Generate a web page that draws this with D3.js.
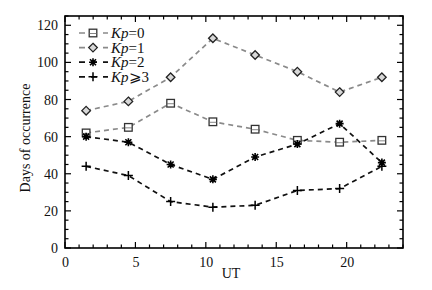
<!DOCTYPE html>
<html>
<head>
<meta charset="utf-8">
<script src="https://cdn.jsdelivr.net/npm/d3@7"></script>
<style>
  body { margin: 0; background: #fff; }
  svg { font-family: "Liberation Serif", "DejaVu Serif", serif; }
  .axis path, .axis line { stroke: #000; }
</style>
</head>
<body>
<svg id="chart" width="432" height="290"></svg>
<script>
// UT hour bins
const ut = [1.5, 4.5, 7.5, 10.5, 13.5, 16.5, 19.5, 22.5];

const kp0 = [62, 65, 78, 68, 64, 58, 57, 58];
const kp1 = [74, 79, 92, 113, 104, 95, 84, 92];
const kp2 = [60, 57, 45, 37, 49, 56, 67, 46];
const kp3 = [44, 39, 25, 22, 23, 31, 32, 44];

const xTicks = [0, 5, 10, 15, 20];
const yTicks = [0, 20, 40, 60, 80, 100, 120];

const series = [
  {label: "=0", values: kp0, color: "#8a8a8a", marker: "square"},
  {label: "=1", values: kp1, color: "#8a8a8a", marker: "diamond"},
  {label: "=2", values: kp2, color: "#111", marker: "star"},
  {label: "\u2a7e3", values: kp3, color: "#111", marker: "plus"}
];

const margin = {top: 16, right: 29, bottom: 42, left: 65};
const svg = d3.select("#chart");
const width = 432 - margin.left - margin.right;
const height = 290 - margin.top - margin.bottom;

const x = d3.scaleLinear().domain([0, 24]).range([0, width]);
const y = d3.scaleLinear().domain([0, 125]).range([height, 0]);

const g = svg.append("g")
    .attr("transform", "translate(" + margin.left + "," + margin.top + ")");

// ticks pointing inward, minor ticks on all sides
const xMinor = d3.range(0, 25, 1).filter(d => d % 5 !== 0);
const yMinor = d3.range(0, 126, 5).filter(d => d % 20 !== 0);

function ticksX(gg, ticks, len, top) {
  gg.selectAll(null).data(ticks).enter().append("line")
    .attr("x1", d => x(d)).attr("x2", d => x(d))
    .attr("y1", top ? 0 : height).attr("y2", top ? len : height - len)
    .attr("stroke", "#000").attr("stroke-width", 1.2);
}
function ticksY(gg, ticks, len, right) {
  gg.selectAll(null).data(ticks).enter().append("line")
    .attr("y1", d => y(d)).attr("y2", d => y(d))
    .attr("x1", right ? width : 0).attr("x2", right ? width - len : len)
    .attr("stroke", "#000").attr("stroke-width", 1.2);
}
const tk = g.append("g");
ticksX(tk, xTicks, 6, false); ticksX(tk, xTicks, 6, true);
ticksX(tk, xMinor, 3.5, false); ticksX(tk, xMinor, 3.5, true);
ticksY(tk, yTicks, 6, false); ticksY(tk, yTicks, 6, true);
ticksY(tk, yMinor, 3.5, false); ticksY(tk, yMinor, 3.5, true);

g.append("rect")
    .attr("width", width).attr("height", height)
    .attr("fill", "none").attr("stroke", "#000").attr("stroke-width", 1.6);

// tick labels
g.append("g")
    .attr("class", "axis")
    .attr("transform", "translate(0," + height + ")")
    .call(d3.axisBottom(x).tickValues(xTicks).tickSize(0).tickPadding(9))
    .call(a => a.select(".domain").remove())
    .selectAll("text").attr("font-size", 14).attr("font-family", "Liberation Serif").attr("fill", "#111");

g.append("g")
    .attr("class", "axis")
    .call(d3.axisLeft(y).tickValues(yTicks).tickSize(0).tickPadding(7))
    .call(a => a.select(".domain").remove())
    .selectAll("text").attr("font-size", 14).attr("font-family", "Liberation Serif").attr("fill", "#111");

// axis titles
svg.append("text")
    .attr("transform", "translate(30," + (margin.top + height / 2 + 6) + ") rotate(-90)")
    .attr("text-anchor", "middle")
    .attr("font-size", 14).attr("fill", "#111")
    .text("Days of occurrence");

svg.append("text")
    .attr("x", 231).attr("y", 278)
    .attr("text-anchor", "middle")
    .attr("font-size", 14).attr("fill", "#111")
    .text("UT");

function drawMarker(sel, type) {
  if (type === "square") {
    sel.append("rect").attr("x", -3.8).attr("y", -3.8).attr("width", 7.6).attr("height", 7.6)
      .attr("fill", "#fff").attr("stroke", "#333").attr("stroke-width", 1.3);
    sel.append("line").attr("x1", -3.8).attr("x2", 3.8).attr("y1", 0.5).attr("y2", 0.5)
      .attr("stroke", "#666").attr("stroke-width", 0.8);
  } else if (type === "diamond") {
    sel.append("path").attr("d", "M0,-4.3L4.3,0L0,4.3L-4.3,0Z")
      .attr("fill", "#d8d8d8").attr("stroke", "#222").attr("stroke-width", 1.3);
  } else if (type === "star") {
    sel.append("path").attr("d", "M-4,0H4M0,-4V4M-3,-3L3,3M-3,3L3,-3")
      .attr("stroke", "#000").attr("stroke-width", 1.6);
  } else {
    sel.append("path").attr("d", "M-4.5,0H4.5M0,-4.5V4.5")
      .attr("stroke", "#000").attr("stroke-width", 1.5);
  }
}

const line = d3.line().x((d, i) => x(ut[i])).y(d => y(d));

series.forEach(s => {
  g.append("path")
      .datum(s.values)
      .attr("d", line)
      .attr("fill", "none")
      .attr("stroke", s.color)
      .attr("stroke-width", 1.7)
      .attr("stroke-dasharray", "5,4");
  g.selectAll(null).data(s.values).enter().append("g")
      .attr("transform", (d, i) => "translate(" + x(ut[i]) + "," + y(d) + ")")
      .each(function() { drawMarker(d3.select(this), s.marker); });
});

// legend
const legend = svg.append("g");
series.forEach((s, i) => {
  const ly = 33 + i * 14.6;
  const it = legend.append("g").attr("transform", "translate(0," + ly + ")");
  it.append("line").attr("x1", 78).attr("x2", 108).attr("y1", 0).attr("y2", 0)
    .attr("stroke", s.color).attr("stroke-width", 1.7).attr("stroke-dasharray", "6,6").attr("stroke-dashoffset", -1);
  const m = it.append("g").attr("transform", "translate(93,0)");
  drawMarker(m, s.marker);
  const t = it.append("text").attr("x", 111).attr("y", 5).attr("font-size", 15).attr("fill", "#111");
  t.append("tspan").attr("font-style", "italic").text("Kp");
  t.append("tspan").text(s.label);
});
</script>
</body>
</html>
